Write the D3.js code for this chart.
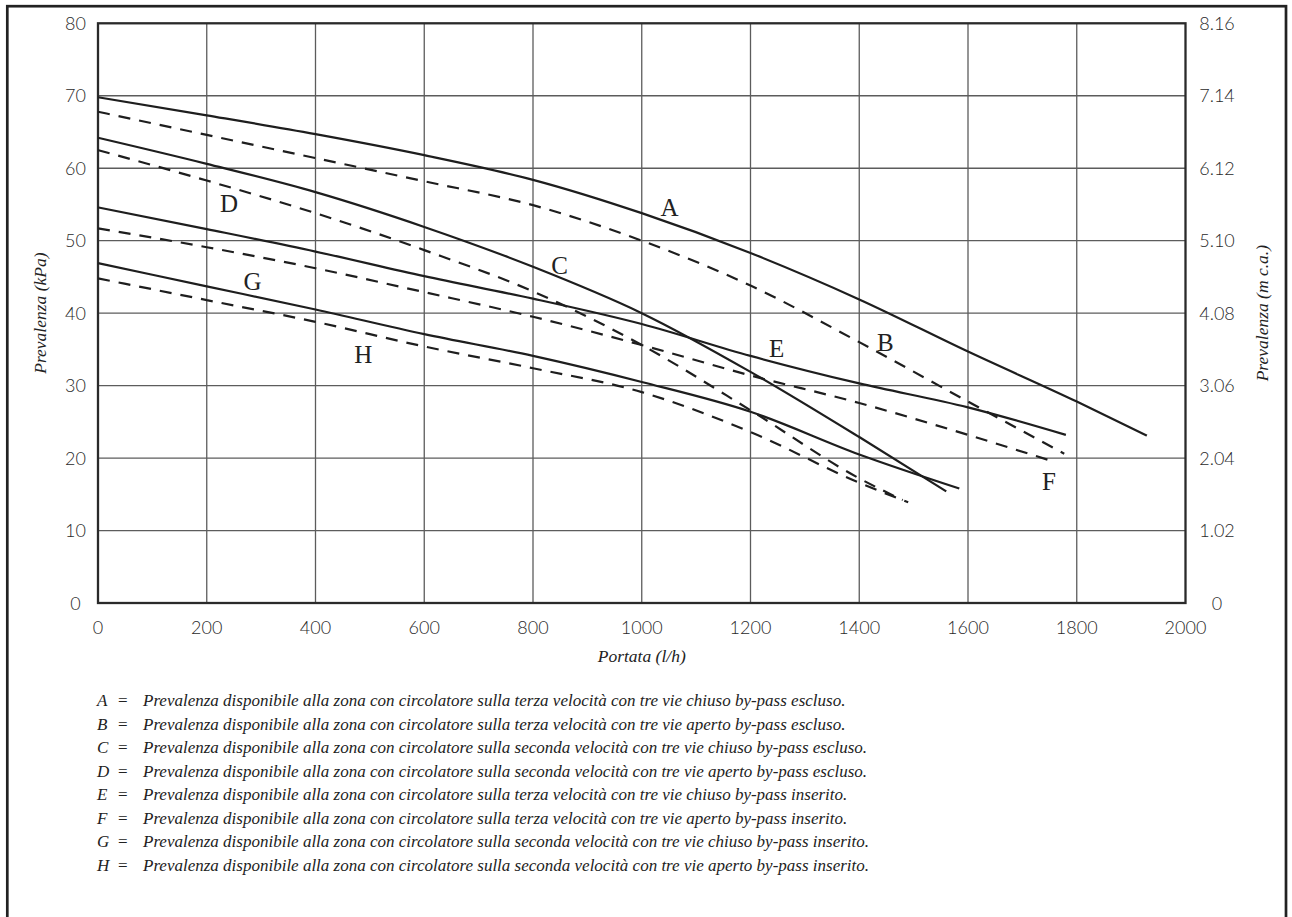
<!doctype html>
<html>
<head>
  <meta charset="utf-8">
  <style>
      body {
         margin:0;
         background:#fff;
      }
      svg {
         display:block;
      }
      .grid line {
         stroke:#5c5c5c;
         stroke-width:1.3;
      }
      .tick-label {
         font-family:Lato, "Open Sans", sans-serif;
         font-weight:300;
         font-size:18px;
         fill:#2a2a2a;
         text-anchor:middle;
      }
      .title {
         font-family:"Liberation Serif", serif;
         font-style:italic;
         font-size:17.5px;
         fill:#222;
         text-anchor:middle;
      }
      .curve {
         fill:none;
         stroke:#1e1e1e;
         stroke-width:2.2;
      }
      .curve-label {
         font-family:"Liberation Serif", serif;
         font-size:25px;
         fill:#222;
         text-anchor:middle;
         dominant-baseline:central;
      }
      .legend {
         font-family:"Liberation Serif", serif;
         font-style:italic;
         font-size:17px;
         fill:#222;
      }
  </style>
  <script src="https://cdn.jsdelivr.net/npm/d3@7"></script>
</head>

<body>
  <script>

      // axis ticks
      var flowTicks = [0,200,400,600,800,1000,1200,1400,1600,1800,2000];
      var kpaTicks = [0,10,20,30,40,50,60,70,80];
      var mcaTicks = ["0","1.02","2.04","3.06","4.08","5.10","6.12","7.14","8.16"];

      // curves, [portata l/h, prevalenza kPa]
      var curveA = [[0,69.8],[200,67.3],[400,64.7],[600,61.8],[800,58.4],[1000,53.8],[1200,48.3],[1400,41.9],[1600,34.7],[1800,27.8],[1929,23.1]];
      var curveB = [[0,67.8],[200,64.6],[400,61.4],[600,58.2],[800,54.9],[1000,50.0],[1200,43.8],[1400,36.0],[1600,27.8],[1777,20.6]];
      var curveC = [[0,64.2],[200,60.6],[400,56.7],[600,51.9],[800,46.4],[1000,40.0],[1200,31.9],[1400,22.9],[1560,15.4]];
      var curveD = [[0,62.5],[200,58.3],[400,53.8],[600,48.7],[800,43.0],[1000,35.6],[1200,26.6],[1400,17.2],[1480,14.2]];
      var curveE = [[0,54.6],[200,51.6],[400,48.5],[600,45.1],[800,42.0],[1000,38.5],[1200,34.1],[1400,30.3],[1600,27.0],[1780,23.2]];
      var curveF = [[0,51.7],[200,49.1],[400,46.2],[600,42.9],[800,39.5],[1000,35.6],[1200,31.4],[1400,27.6],[1600,23.2],[1758,19.5]];
      var curveG = [[0,46.9],[200,43.7],[400,40.5],[600,37.1],[800,34.1],[1000,30.5],[1200,26.4],[1400,20.5],[1584,15.8]];
      var curveH = [[0,44.8],[200,41.8],[400,38.8],[600,35.4],[800,32.4],[1000,29.1],[1200,23.6],[1400,16.6],[1490,13.9]];

      var curveNames  = ["A","B","C","D","E","F","G","H"];
      var curveDashed = [false,true,false,true,false,true,false,true];

      // where the letters sit, in data units
      var labelFlow = [1051,1448,849,241,1248,1749,284,488];
      var labelKpa  = [54.6,35.9,46.6,55.2,35.1,16.7,44.3,34.3];

      var legendTexts = [
         "Prevalenza disponibile alla zona con circolatore sulla terza velocità con tre vie chiuso by-pass escluso.",
         "Prevalenza disponibile alla zona con circolatore sulla terza velocità con tre vie aperto by-pass escluso.",
         "Prevalenza disponibile alla zona con circolatore sulla seconda velocità con tre vie chiuso by-pass escluso.",
         "Prevalenza disponibile alla zona con circolatore sulla seconda velocità con tre vie aperto by-pass escluso.",
         "Prevalenza disponibile alla zona con circolatore sulla terza velocità con tre vie chiuso by-pass inserito.",
         "Prevalenza disponibile alla zona con circolatore sulla terza velocità con tre vie aperto by-pass inserito.",
         "Prevalenza disponibile alla zona con circolatore sulla seconda velocità con tre vie chiuso by-pass inserito.",
         "Prevalenza disponibile alla zona con circolatore sulla seconda velocità con tre vie aperto by-pass inserito."
      ];

      var curves = [curveA,curveB,curveC,curveD,curveE,curveF,curveG,curveH];

      // layout
      var W = 1292, H = 917;
      var plotLeft = 98, plotRight = 1185.5, plotTop = 23.3, plotBottom = 603;

      var x = d3.scaleLinear().domain([0,2000]).range([plotLeft,plotRight]);
      var y = d3.scaleLinear().domain([0,80]).range([plotBottom,plotTop]);
      var y2 = d3.scaleLinear().domain([0,8.16]).range([plotBottom,plotTop]);

      var svg = d3.select("body").append("svg")
         .attr("width", W)
         .attr("height", H);

      // outer frame (runs past the bottom of the picture)
      svg.append("rect")
         .attr("x", 7.3)
         .attr("y", 6.2)
         .attr("width", 1286 - 7.3)
         .attr("height", H + 20)
         .attr("fill", "none")
         .attr("stroke", "#222")
         .attr("stroke-width", 2.7);

      // grid
      var grid = svg.append("g").attr("class", "grid");
      grid.selectAll("line.v")
         .data(flowTicks.slice(1, -1))
         .enter().append("line")
         .attr("x1", function(d) { return x(d); })
         .attr("x2", function(d) { return x(d); })
         .attr("y1", plotTop)
         .attr("y2", plotBottom);
      grid.selectAll("line.h")
         .data(kpaTicks.slice(1, -1))
         .enter().append("line")
         .attr("x1", plotLeft)
         .attr("x2", plotRight)
         .attr("y1", function(d) { return y(d); })
         .attr("y2", function(d) { return y(d); });

      // plot frame
      svg.append("rect")
         .attr("x", plotLeft)
         .attr("y", plotTop)
         .attr("width", plotRight - plotLeft)
         .attr("height", plotBottom - plotTop)
         .attr("fill", "none")
         .attr("stroke", "#2a2a2a")
         .attr("stroke-width", 2.3);

      // tick labels
      svg.selectAll("text.xl")
         .data(flowTicks)
         .enter().append("text")
         .attr("class", "tick-label")
         .attr("x", function(d) { return x(d); })
         .attr("y", 634)
         .text(function(d) { return d; });

      svg.selectAll("text.yl")
         .data(kpaTicks)
         .enter().append("text")
         .attr("class", "tick-label")
         .attr("x", 75.5)
         .attr("y", function(d) { return y(d) + 6.5; })
         .text(function(d) { return d; });

      svg.selectAll("text.yr")
         .data(mcaTicks)
         .enter().append("text")
         .attr("class", "tick-label")
         .attr("x", 1217)
         .attr("y", function(d) { return y2(+d) + 6.5; })
         .text(function(d) { return d; });

      // axis titles
      svg.append("text")
         .attr("class", "title")
         .attr("x", x(1000))
         .attr("y", 662)
         .text("Portata (l/h)");

      svg.append("text")
         .attr("class", "title")
         .attr("transform", "translate(46," + ((plotTop + plotBottom) / 2) + ") rotate(-90)")
         .text("Prevalenza (kPa)");

      svg.append("text")
         .attr("class", "title")
         .attr("transform", "translate(1268," + ((plotTop + plotBottom) / 2) + ") rotate(-90)")
         .text("Prevalenza (m c.a.)");

      // curves
      var line = d3.line()
         .x(function(d) { return x(d[0]); })
         .y(function(d) { return y(d[1]); })
         .curve(d3.curveMonotoneX);

      svg.append("g").selectAll("path")
         .data(curves)
         .enter().append("path")
         .attr("class", "curve")
         .attr("d", line)
         .attr("stroke-dasharray", function(d, i) { return curveDashed[i] ? "12,9" : null; });

      svg.append("g").selectAll("text")
         .data(curveNames)
         .enter().append("text")
         .attr("class", "curve-label")
         .attr("x", function(d, i) { return x(labelFlow[i]); })
         .attr("y", function(d, i) { return y(labelKpa[i]); })
         .text(function(d) { return d; });

      // legend
      var legend = svg.append("g").attr("class", "legend");
      legendTexts.forEach(function(t, i) {
         var yy = 706 + i * 23.5;
         legend.append("text").attr("x", 97).attr("y", yy).text(curveNames[i]);
         legend.append("text").attr("x", 118).attr("y", yy).style("font-style", "normal").text("=");
         legend.append("text").attr("x", 143).attr("y", yy).text(t);
      });

  </script>
</body>
</html>
